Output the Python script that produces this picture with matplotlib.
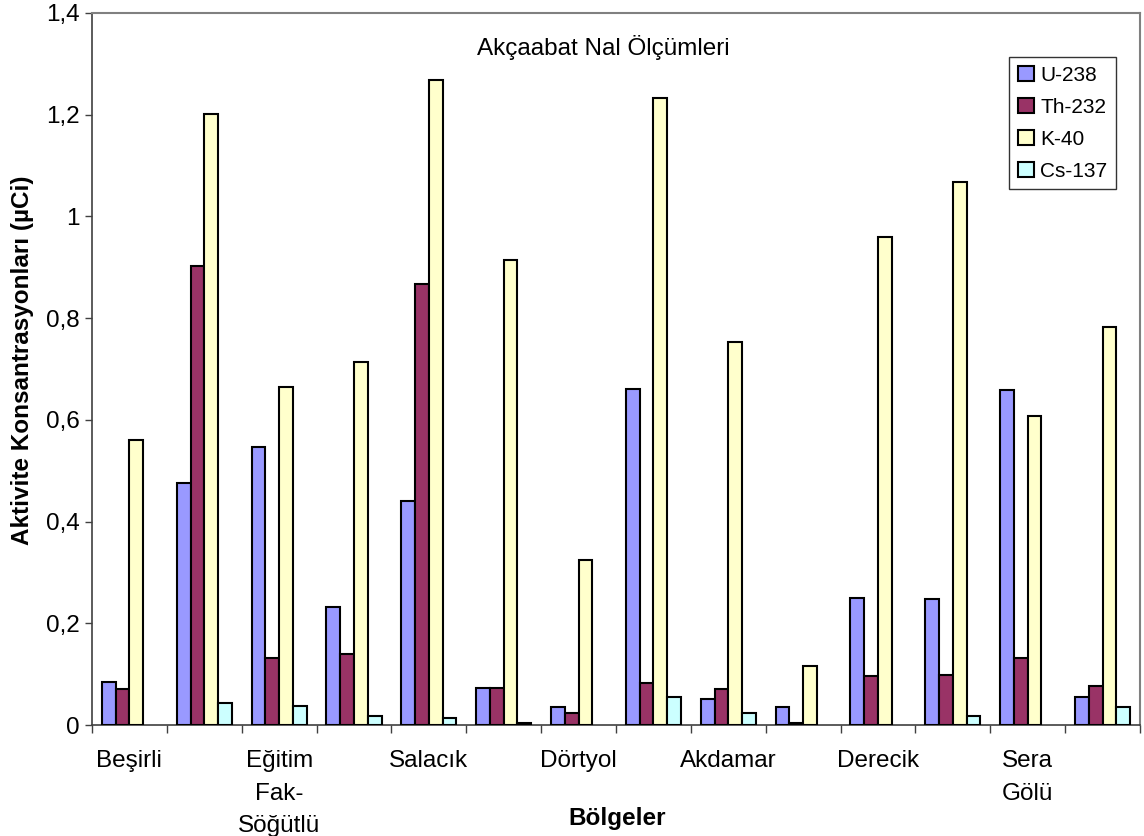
import numpy as np
import matplotlib
matplotlib.use('Agg')
import matplotlib.pyplot as plt
from matplotlib.ticker import FuncFormatter

plt.rcParams['font.family'] = ['Liberation Sans', 'DejaVu Sans']

# Ölçüm noktaları (her ikinci etiket eksende gösteriliyor)
bolgeler = ['Beşirli', '', 'Eğitim\nFak-\nSöğütlü', '', 'Salacık', '', 'Dörtyol', '',
            'Akdamar', '', 'Derecik', '', 'Sera\nGölü', '']

u238 = [0.084, 0.476, 0.547, 0.233, 0.441, 0.073, 0.035, 0.661, 0.052, 0.036, 0.250, 0.248, 0.658, 0.056]
th232 = [0.070, 0.903, 0.132, 0.140, 0.867, 0.073, 0.023, 0.082, 0.070, 0.003, 0.096, 0.098, 0.131, 0.076]
k40 = [0.561, 1.201, 0.665, 0.713, 1.269, 0.915, 0.324, 1.233, 0.753, 0.116, 0.960, 1.067, 0.607, 0.782]
cs137 = [0.0, 0.043, 0.037, 0.018, 0.013, 0.004, 0.0, 0.055, 0.024, 0.0, 0.0, 0.018, 0.0, 0.036]

seriler = [('U-238', u238, '#9999FF'),
           ('Th-232', th232, '#993366'),
           ('K-40', k40, '#FFFFCC'),
           ('Cs-137', cs137, '#CCFFFF')]

fig = plt.figure(figsize=(11.44, 8.36), dpi=100)
ax = fig.add_axes([92 / 1144, 1 - 725 / 836, (1140 - 92) / 1144, (725 - 13) / 836])

x = np.arange(len(bolgeler))
w = 0.184
for i, (ad, vals, renk) in enumerate(seriler):
    v = np.array(vals, dtype=float)
    v[v == 0] = np.nan  # sıfır değerler çizilmez
    ax.bar(x + (i - 1.5) * w, v, w, color=renk, edgecolor='black',
           linewidth=1.5, label=ad, zorder=3)

ax.set_xlim(-0.5, len(bolgeler) - 0.5)
ax.set_ylim(0, 1.4)
ax.set_yticks(np.arange(0, 1.41, 0.2))
ax.yaxis.set_major_formatter(FuncFormatter(lambda v, p: f'{v:.1f}'.rstrip('0').rstrip('.').replace('.', ',')))

# kategori etiketleri merkezde, tik çizgileri sınırlarda
ax.set_xticks(x)
ax.set_xticklabels(bolgeler, fontsize=17.5, linespacing=1.62)
ax.tick_params(axis='x', which='major', length=0, pad=18)
ax.set_xticks(np.arange(-0.5, len(bolgeler), 1), minor=True)
ax.tick_params(axis='x', which='minor', length=6, width=1, color='#404040')
ax.tick_params(axis='y', length=5, width=1, color='#404040', labelsize=17.5, pad=4)

for s in ['left', 'bottom']:
    ax.spines[s].set_color('#404040')
    ax.spines[s].set_linewidth(1.2)
for s in ['top', 'right']:
    ax.spines[s].set_color('#808080')
    ax.spines[s].set_linewidth(1.5)

ax.text(0.4876, 0.951, 'Akçaabat Nal Ölçümleri', transform=ax.transAxes,
        ha='center', va='center', fontsize=17.5)

leg = ax.legend(loc='upper right', bbox_to_anchor=(0.977, 0.938), borderaxespad=0,
                fontsize=15, fancybox=False, frameon=True, edgecolor='black',
                handlelength=0.75, handleheight=0.75, handletextpad=0.3,
                labelspacing=0.62, borderpad=0.42)
leg.get_frame().set_linewidth(1.0)

fig.text(23 / 1144, 1 - 360 / 836, 'Aktivite Konsantrasyonları (µCi)', rotation=90,
         ha='center', va='center', fontsize=17.5, fontweight='bold')
fig.text(617 / 1144, 1 - 818 / 836, 'Bölgeler', ha='center', va='center',
         fontsize=17.5, fontweight='bold')

fig.savefig('out.png', dpi=100)
